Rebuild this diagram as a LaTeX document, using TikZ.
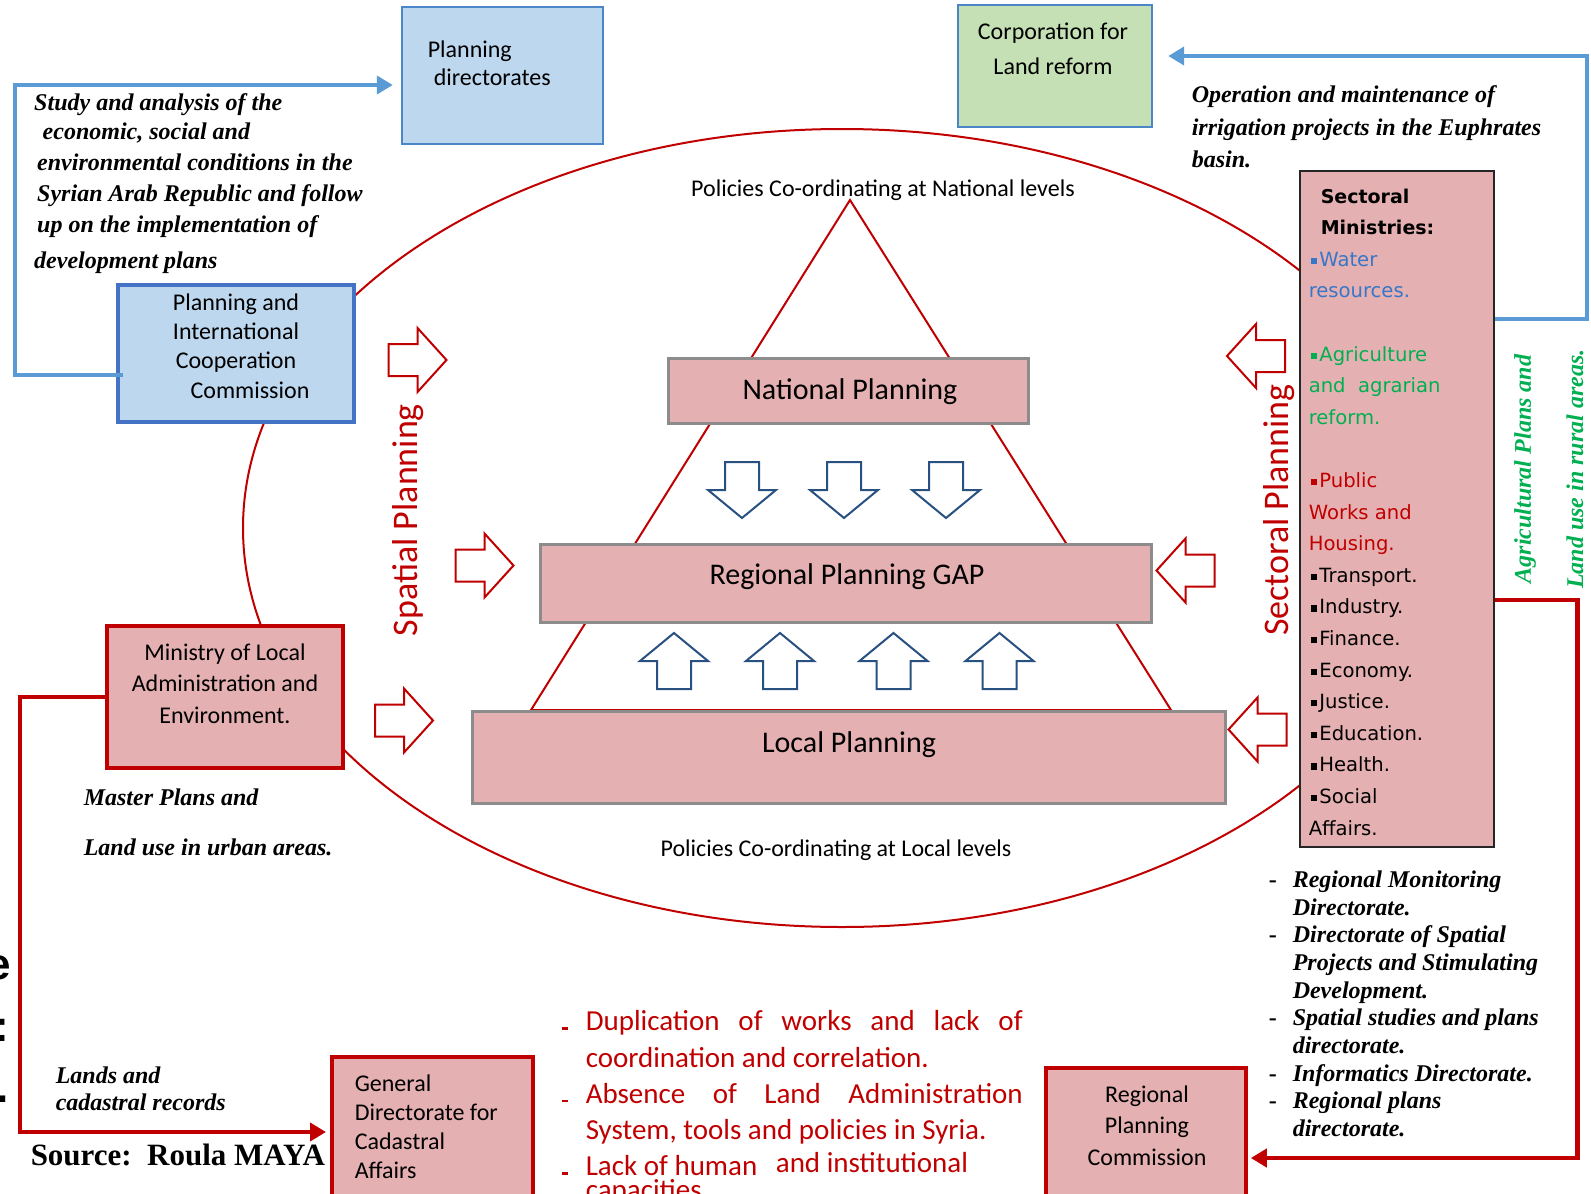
\documentclass[tikz,border=0pt]{standalone}
\usepackage{fontspec}
\setmainfont{Carlito}
\newfontfamily\notefont{Liberation Serif}
\newfontfamily\listfont{DejaVu Sans}
\newfontfamily\titlefont{Liberation Sans}
\usetikzlibrary{arrows.meta,calc}
\definecolor{pinkfill}{RGB}{228,176,177}
\definecolor{paleblue}{RGB}{189,215,238}
\definecolor{palegreen}{RGB}{197,224,180}
\definecolor{boxblue}{RGB}{74,134,200}
\definecolor{deepblue}{RGB}{68,114,196}
\definecolor{linkblue}{RGB}{91,155,213}
\definecolor{darkred}{RGB}{192,0,0}
\definecolor{grayline}{RGB}{140,140,140}
\definecolor{arrowblue}{RGB}{40,80,128}
\definecolor{agrigreen}{RGB}{0,176,80}
\definecolor{waterblue}{RGB}{55,118,200}
\newcommand{\sqbullet}{\raisebox{0.12em}{\rule{0.32em}{0.32em}}\hspace{0.12em}}
\tikzset{every picture/.style={line width=0.75pt}}
\tikzset{
  plainbox/.style={inner sep=0pt, fill=pinkfill},
  graybox/.style={plainbox, draw=grayline, line width=1.5pt},
  redbox/.style={plainbox, draw=darkred, line width=2pt},
  darkbox/.style={plainbox, draw=black!85, line width=1.3pt},
  bluebox/.style={inner sep=0pt, fill=paleblue, draw=boxblue, line width=1.2pt},
  greenbox/.style={inner sep=0pt, fill=palegreen, draw=boxblue, line width=1.2pt},
  boxtext/.style={inner sep=0pt, align=center},
  notetext/.style={inner sep=0pt, align=left, font=\notefont\bfseries\itshape\fontsize{12}{15.5}\selectfont},
  listtext/.style={inner sep=0pt, align=left, font=\listfont\fontsize{9.8}{15.8}\selectfont},
  redline/.style={draw=darkred, line width=1pt},
  bluelink/.style={draw=linkblue, line width=2pt, -{Triangle[length=8pt,width=9pt]}},
  redlink/.style={draw=darkred, line width=2.2pt, -{Triangle[length=8pt,width=9pt]}},
  redarrow/.pic={\draw[draw=darkred, fill=white, line width=1pt] (-29,-16) -- (0,-16) -- (0,-32) -- (29,0) -- (0,32) -- (0,16) -- (-29,16) -- cycle;},
  bluearrow/.pic={\draw[draw=arrowblue, fill=white, line width=1pt] (-28,-17) -- (0,-17) -- (0,-34) -- (28,0) -- (0,34) -- (0,17) -- (-28,17) -- cycle;},
}
\begin{document}
\begin{tikzpicture}[x=0.5pt,y=-0.5pt]
\useasboundingbox (0,0) rectangle (1591,1194);

%Shape: Ellipse
\draw[redline] (842,528) ellipse [x radius=599, y radius=399];
%Shape: Triangle
\draw[redline] (850,200) -- (1171,710) -- (531,710) -- cycle;

%Shape: Rectangle
\node[bluebox, minimum width=100.5pt, minimum height=68.5pt] (pdir) at (502.5,75.5) {};
%Shape: Rectangle
\node[greenbox, minimum width=97pt, minimum height=61pt] (corp) at (1055,66) {};
%Shape: Rectangle
\node[bluebox, draw=deepblue, line width=1.6pt, minimum width=118pt, minimum height=68.5pt] (picc) at (236,353.5) {};
%Shape: Rectangle
\node[redbox, line width=2.3pt, minimum width=118pt, minimum height=71pt] (mini) at (225,697) {};
%Shape: Rectangle
\node[redbox, minimum width=100.5pt, minimum height=79pt] (cad) at (432.5,1136) {};
%Shape: Rectangle
\node[redbox, line width=1.8pt, minimum width=100pt, minimum height=73.5pt] (rpc) at (1146,1141.5) {};
%Shape: Rectangle
\node[darkbox, minimum width=97pt, minimum height=338pt] (sect) at (1397,509) {};
%Shape: Rectangle
\node[graybox, minimum width=180pt, minimum height=32.5pt] (natp) at (848,390.5) {};
%Shape: Rectangle
\node[graybox, minimum width=305.5pt, minimum height=39pt] (regp) at (845.5,583) {};
%Shape: Rectangle
\node[graybox, minimum width=376.5pt, minimum height=46pt] (locp) at (848.5,757) {};

%Block arrows, spatial side
\pic (ra1) at (417.5,360) {redarrow};
\pic (ra2) at (484.5,565.5) {redarrow};
\pic (ra3) at (404,720.5) {redarrow};
%Block arrows, sectoral side
\pic[rotate=180] (la1) at (1256,356) {redarrow};
\pic[rotate=180] (la2) at (1185.5,570.5) {redarrow};
\pic[rotate=180] (la3) at (1257.5,729.5) {redarrow};
%Block arrows, national to regional
\pic[rotate=-90] (bd1) at (742,490) {bluearrow};
\pic[rotate=-90] (bd2) at (844,490) {bluearrow};
\pic[rotate=-90] (bd3) at (946,490) {bluearrow};
%Block arrows, local to regional
\pic[rotate=90] (bu1) at (674,661) {bluearrow};
\pic[rotate=90] (bu2) at (780,661) {bluearrow};
\pic[rotate=90] (bu3) at (893.5,661) {bluearrow};
\pic[rotate=90] (bu4) at (999.5,661) {bluearrow};

%Connectors
\draw[bluelink] ($(picc.west)+(7,21.5)$) -- ++(-108,0) |- ($(pdir.west)+(-8,9.5)$);
\draw[bluelink] ($(sect.east)+(0,-190)$) -- ++(92,0) |- ($(corp.east)+(15,-10)$);
\draw[redlink] (mini.west) -- ++(-85,0) |- ($(cad.west)+(-4,-4)$);
\draw[redlink] ($(sect.east)+(0,91)$) -- ++(82,0) |- ($(rpc.east)+(3,16.5)$);

% Text Node
\node[boxtext, align=left, anchor=north west, font=\fontsize{12}{14}\selectfont] (pdir-txt) at (427,40) {Planning\\\hspace*{3pt}directorates};
% Text Node
\node[boxtext, anchor=north, font=\fontsize{12}{17.5}\selectfont] (corp-txt) at (1053,22) {Corporation for\\Land reform};
% Text Node
\node[boxtext, anchor=north, font=\fontsize{12}{14.6}\selectfont] (picc-txt) at (236,293) {Planning and\\International\\Cooperation\\\hspace*{14pt}Commission};
% Text Node
\node[boxtext, anchor=north, font=\fontsize{12}{15.7}\selectfont] (mini-txt) at (225,643) {Ministry of Local\\Administration and\\Environment.};
% Text Node
\node[boxtext, align=left, anchor=north west, font=\fontsize{12}{14.5}\selectfont] (cad-txt) at (354,1074) {General\\Directorate for\\Cadastral\\Affairs};
% Text Node
\node[boxtext, anchor=north, font=\fontsize{12}{15.7}\selectfont] (rpc-txt) at (1147,1085) {Regional\\Planning\\Commission};
% Text Node
\node[boxtext, font=\fontsize{15}{18}\selectfont] (natp-txt) at (850,392) {National Planning};
% Text Node
\node[boxtext, font=\fontsize{15}{18}\selectfont] (regp-txt) at (847,577) {Regional Planning GAP};
% Text Node
\node[boxtext, font=\fontsize{15}{18}\selectfont] (locp-txt) at (849,745) {Local Planning};
% Text Node
\node[boxtext, font=\fontsize{12}{14}\selectfont] (pol-nat) at (883,190) {Policies Co-ordinating at National levels};
% Text Node
\node[boxtext, font=\fontsize{12}{14}\selectfont] (pol-loc) at (836,850) {Policies Co-ordinating at Local levels};
% Text Node
\node[boxtext, rotate=90, text=darkred, font=\fontsize{18}{20}\selectfont] (spat-txt) at (408,520) {Spatial Planning};
% Text Node
\node[boxtext, rotate=90, text=darkred, font=\fontsize{18}{20}\selectfont] (sectp-txt) at (1279,510) {Sectoral Planning};
% Text Node
\node[notetext, rotate=90, text=agrigreen] (agri-txt) at (1525,469) {Agricultural Plans and};
% Text Node
\node[notetext, rotate=90, text=agrigreen] (rural-txt) at (1575,469) {Land use in rural areas.};

% Text Node
\node[listtext, anchor=north west] (sect-txt) at (1308,188) {%
\hspace*{6pt}\textbf{\fontsize{9.5}{15.8}\selectfont Sectoral}\\
\hspace*{6pt}\textbf{\fontsize{9.5}{15.8}\selectfont Ministries:}\\
\textcolor{waterblue}{\hspace*{1pt}\sqbullet Water}\\
\textcolor{waterblue}{resources.}\\[15.8pt]
\textcolor{agrigreen}{\hspace*{1pt}\sqbullet Agriculture}\\
\textcolor{agrigreen}{and\ \ agrarian}\\
\textcolor{agrigreen}{reform.}\\[15.8pt]
\textcolor{darkred}{\hspace*{1pt}\sqbullet Public}\\
\textcolor{darkred}{Works and}\\
\textcolor{darkred}{Housing.}\\
\hspace*{1pt}\sqbullet Transport.\\
\hspace*{1pt}\sqbullet Industry.\\
\hspace*{1pt}\sqbullet Finance.\\
\hspace*{1pt}\sqbullet Economy.\\
\hspace*{1pt}\sqbullet Justice.\\
\hspace*{1pt}\sqbullet Education.\\
\hspace*{1pt}\sqbullet Health.\\
\hspace*{1pt}\sqbullet Social\\
Affairs.};

% Text Node
\node[notetext, anchor=north west] (study-txt) at (33.5,93) {Study and analysis of the\\[-1.3pt]
\hspace*{4.25pt}economic, social and\\
\hspace*{1.5pt}environmental conditions in the\\
\hspace*{1.5pt}Syrian Arab Republic and follow\\
\hspace*{1.5pt}up on the implementation of\\[2.9pt]
development plans};
% Text Node
\node[notetext, anchor=north west, font=\notefont\bfseries\itshape\fontsize{12}{16.2}\selectfont] (oper-txt) at (1191,85) {Operation and maintenance of\\irrigation projects in the Euphrates\\basin.};
% Text Node
\node[notetext, anchor=north west, font=\notefont\bfseries\itshape\fontsize{12}{24.9}\selectfont] (master-txt) at (83,788) {Master Plans and\\Land use in urban areas.};
% Text Node
\node[notetext, anchor=north west, font=\notefont\bfseries\itshape\fontsize{12}{13.7}\selectfont] (lands-txt) at (55,1066) {Lands and\\cadastral records};
% Text Node
\node[notetext, anchor=north west, font=\notefont\bfseries\itshape\fontsize{12}{13.83}\selectfont] (rpc-list) at (1268,870) {%
\makebox[12pt][l]{\upshape -}Regional Monitoring\\
\hspace*{12pt}Directorate.\\
\makebox[12pt][l]{\upshape -}Directorate of Spatial\\
\hspace*{12pt}Projects and Stimulating\\
\hspace*{12pt}Development.\\
\makebox[12pt][l]{\upshape -}Spatial studies and plans\\
\hspace*{12pt}directorate.\\
\makebox[12pt][l]{\upshape -}Informatics Directorate.\\
\makebox[12pt][l]{\upshape -}Regional plans\\
\hspace*{12pt}directorate.};
% Text Node
\node[boxtext, align=left, anchor=north west, text=darkred, font=\fontsize{14.5}{18.1}\selectfont] (gap-txt) at (585,1010) {%
\llap{\rule[0.5pt]{3pt}{1.2pt}\hspace{9pt}}\makebox[218.5pt][s]{Duplication of works and lack of}\\
coordination and correlation.\\
\llap{\rule[0.5pt]{3pt}{1.2pt}\hspace{9pt}}\makebox[218.5pt][s]{Absence of Land Administration}\\
System, tools and policies in Syria.\\
\llap{\rule[0.5pt]{3pt}{1.2pt}\hspace{9pt}}Lack of human\hspace{6pt} \raisebox{1.5pt}{and institutional}\\[-6pt]
capacities.};
% Text Node
\node[inner sep=0pt, anchor=north west, font=\notefont\bfseries\fontsize{15.5}{18}\selectfont] (src) at (30,1143) {Source:\ \ Roula MAYA};
% Text Node
\node[inner sep=0pt, anchor=east, font=\titlefont\bfseries\fontsize{22}{26}\selectfont] (cut-e) at (12,968) {e};
\node[inner sep=0pt, anchor=east, font=\titlefont\bfseries\fontsize{22}{26}\selectfont] (cut-colon) at (10,1030) {:};
\node[inner sep=0pt, anchor=east, font=\titlefont\bfseries\fontsize{22}{26}\selectfont] (cut-dot) at (9,1099) {.};
\end{tikzpicture}
\end{document}
